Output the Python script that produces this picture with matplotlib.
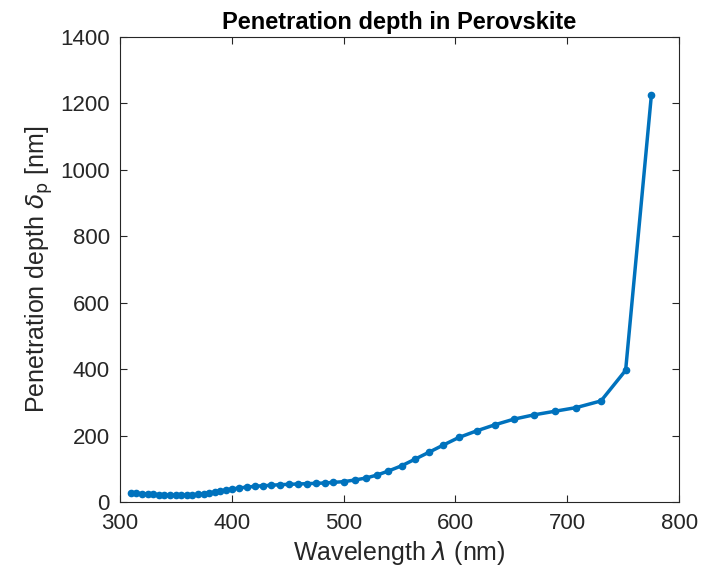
import matplotlib.pyplot as plt

wavelength = [310, 315, 320, 325, 330, 335, 340, 345, 350, 355, 360, 365, 370, 375,
              380, 385, 390, 395, 400, 407, 414, 421, 428, 435, 443, 451, 459, 467,
              475, 483, 491, 500, 510, 520, 530, 540, 552, 564, 576, 589, 603, 619,
              635, 652, 670, 689, 708, 730, 752, 775]
depth = [28, 27, 26, 25, 24, 23, 22, 21, 21, 21, 22, 22, 24, 26,
         28, 31, 34, 37, 40, 43, 46, 48, 50, 51, 53, 54, 55, 56,
         57, 58, 60, 62, 67, 73, 82, 94, 110, 130, 150, 172, 195, 215,
         233, 250, 263, 274, 285, 305, 397, 1225]

plt.rcParams['font.family'] = ['Arial', 'Liberation Sans', 'DejaVu Sans']
fig, ax = plt.subplots(figsize=(7.04, 5.78), dpi=100)
fig.subplots_adjust(left=0.17, right=0.965, bottom=0.131, top=0.936)

ax.plot(wavelength, depth, '-o', color='#0072BD', linewidth=2.5, markersize=4.5)
ax.set_xlim(300, 800)
ax.set_ylim(0, 1400)
ax.set_xticks(range(300, 801, 100))
ax.set_yticks(range(0, 1401, 200))
ax.tick_params(labelsize=16, colors='#262626', direction='in', top=True, right=True, length=5)
ax.tick_params(axis='x', pad=8)
ax.tick_params(axis='y', pad=7)
for s in ax.spines.values():
    s.set_color('#262626')
    s.set_linewidth(0.8)
ax.set_xlabel(r'Wavelength $\lambda$ (nm)', fontsize=18, color='#262626', labelpad=3)
ax.set_ylabel(r'Penetration depth $\delta_\mathrm{p}$ [nm]', fontsize=18, color='#262626')
ax.set_title('Penetration depth in Perovskite', fontsize=17, fontweight='bold')

plt.savefig('out.png')
